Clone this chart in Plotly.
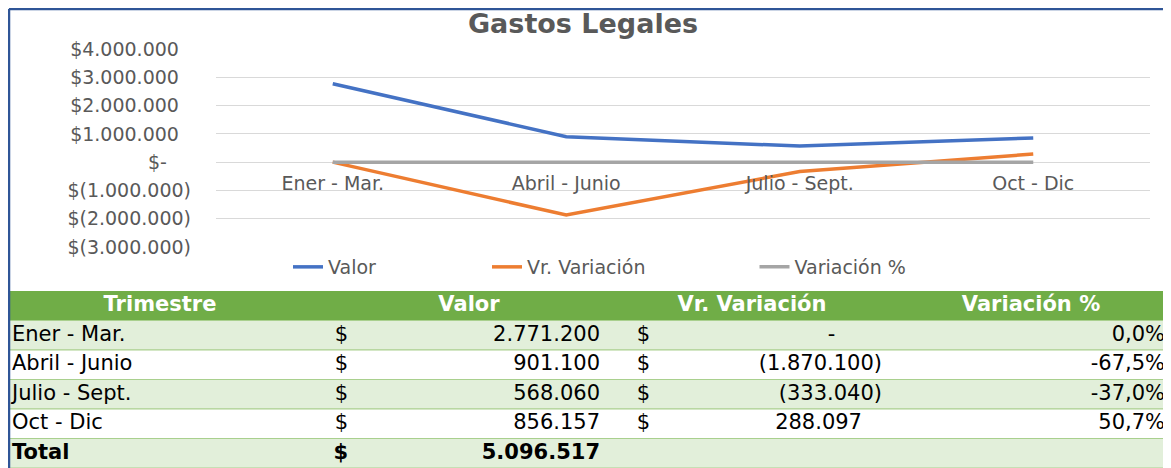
import plotly.graph_objects as go

# ---------------- data ----------------
trimestres = ["Ener - Mar.", "Abril - Junio", "Julio - Sept.", "Oct - Dic"]
valor = [2771200, 901100, 568060, 856157]
vr_variacion = [0, -1870100, -333040, 288097]
variacion_pct = [0.0, -0.675, -0.370, 0.507]
y_tick_values = [-3000000, -2000000, -1000000, 0, 1000000, 2000000, 3000000, 4000000]
series_names = ["Valor", "Vr. Variación", "Variación %"]
table_headers = ["Trimestre", "Valor", "Vr. Variación", "Variación %"]
total_label = "Total"

# ---------------- geometry helpers (page pixels -> paper) ----------------
OFF = 8                      # body margin of the html page
FW, FH = 1171 - OFF, 468 - OFF
NB = "\u00a0"


def px_x(p):
    return (p - OFF) / FW


def px_y(p):
    return 1 - (p - OFF) / FH


def thousands(v):
    return f"{v:,}".replace(",", ".")


def axis_label(v):
    if v > 0:
        return "$" + thousands(v) + NB * 2
    if v == 0:
        return "$-" + NB * 4
    return "$(" + thousands(-v) + ")"


def acct_var(v):
    if v == 0:
        return "-" + NB * 7
    if v < 0:
        return "(" + thousands(-v) + ")"
    return thousands(v) + NB * 3


def pct(p):
    return f"{p * 100:.1f}%".replace(".", ",")


GRAY_TXT = "#595959"
FONT = "DejaVu Sans"
colors = ["#4472C4", "#ED7D31", "#A5A5A5"]
legend_ids = ["legend", "legend2", "legend3"]

fig = go.Figure()
for name, vals, col, lg in zip(series_names, [valor, vr_variacion, variacion_pct], colors, legend_ids):
    fig.add_trace(go.Scatter(
        x=trimestres, y=vals, name=name, mode="lines",
        line=dict(color=col, width=3.5), hoverinfo="skip",
        xaxis="x", yaxis="y", legend=lg,
    ))

# ---------------- table (drawn on its own axes) ----------------
n_rows = len(trimestres) + 2                     # header + data + total
row_idx = list(range(n_rows))
row_fill = ["#70AD47", "#E2EFDA", "white", "#E2EFDA", "white", "#E2EFDA"]
row_line = ["#70AD47"] + ["#A9D08E"] * (n_rows - 1)
TABLE_LEFT, TABLE_RIGHT = 8, 1190

fig.add_trace(go.Bar(
    y=row_idx, x=[TABLE_RIGHT - TABLE_LEFT] * n_rows, base=TABLE_LEFT,
    orientation="h", width=1,
    marker=dict(color=row_fill, line=dict(color=row_line, width=1.2)),
    hoverinfo="skip", showlegend=False, xaxis="x2", yaxis="y2",
))

data_rows = row_idx[1:]
cell_font = dict(family=FONT, size=21, color="black")
head_font = dict(family=FONT, size=21, color="white")

columns = [
    # (texts, anchor x in page px, textposition)
    (trimestres + [f"<b>{total_label}</b>"], 12, "middle right"),
    (["$"] * len(valor) + ["<b>$</b>"], 348, "middle left"),
    ([thousands(v) for v in valor] + [f"<b>{thousands(sum(valor))}</b>"], 600, "middle left"),
    (["$"] * len(vr_variacion) + [""], 650, "middle left"),
    ([acct_var(v) for v in vr_variacion] + [""], 882, "middle left"),
    ([pct(p) for p in variacion_pct] + [""], 1165, "middle left"),
]
for texts, xpos, tpos in columns:
    fig.add_trace(go.Scatter(
        x=[xpos] * len(texts), y=data_rows, text=texts, mode="text",
        textposition=tpos, textfont=cell_font, hoverinfo="skip",
        showlegend=False, xaxis="x2", yaxis="y2", cliponaxis=False,
    ))

header_x = [160, 469, 752, 1031]
fig.add_trace(go.Scatter(
    x=header_x, y=[row_idx[0]] * len(table_headers),
    text=[f"<b>{h}</b>" for h in table_headers], mode="text",
    textposition="middle center", textfont=head_font, hoverinfo="skip",
    showlegend=False, xaxis="x2", yaxis="y2", cliponaxis=False,
))

# frame lines
shapes = [
    dict(type="line", xref="paper", yref="paper", x0=0.0008, x1=1, y0=1 - 1 / FH, y1=1 - 1 / FH,
         line=dict(color="#2F5597", width=2.5), layer="above"),
    dict(type="line", xref="paper", yref="paper", x0=1 / FW, x1=1 / FW, y0=1 - 1 / FH, y1=0,
         line=dict(color="#2F5597", width=2.5), layer="above"),
]

legend_common = dict(orientation="h", xanchor="center", yanchor="middle",
                     y=px_y(267), font=dict(family=FONT, size=19, color=GRAY_TXT),
                     bgcolor="rgba(0,0,0,0)", borderwidth=0)

fig.update_layout(
    template="none",
    width=FW, height=FH, autosize=False,
    margin=dict(l=0, r=0, t=0, b=0, pad=0, autoexpand=False),
    paper_bgcolor="white", plot_bgcolor="white",
    title=dict(text="<b>Gastos Legales</b>", x=px_x(583), y=px_y(14),
               xanchor="center", yanchor="top", automargin=False,
               font=dict(family=FONT, size=27, color=GRAY_TXT)),
    xaxis=dict(
        domain=[px_x(216), px_x(1150)], type="category",
        range=[-0.5, len(trimestres) - 0.5], automargin=False,
        anchor="free", position=px_y(162.1),
        showgrid=False, showline=False, zeroline=False, ticks="",
        tickfont=dict(family=FONT, size=19, color=GRAY_TXT),
        ticklabelstandoff=8,
    ),
    yaxis=dict(
        domain=[px_y(247), px_y(49)], range=[-3000000, 4000000], automargin=False,
        tickvals=y_tick_values, ticktext=[axis_label(v) for v in y_tick_values],
        showgrid=True, gridcolor="#D9D9D9", gridwidth=1,
        zeroline=False, showline=False, ticks="",
        tickfont=dict(family=FONT, size=19, color=GRAY_TXT),
        ticklabelstandoff=24,
    ),
    xaxis2=dict(domain=[0, 1], range=[OFF, 1171], visible=False, anchor="y2",
                automargin=False, fixedrange=True),
    yaxis2=dict(domain=[px_y(468), px_y(291)], range=[n_rows - 0.5, -0.5], visible=False,
                anchor="x2", automargin=False, fixedrange=True),
    showlegend=True,
    legend=dict(x=px_x(335), **legend_common),
    legend2=dict(x=px_x(569), **legend_common),
    legend3=dict(x=px_x(833), **legend_common),
    shapes=shapes,
)

fig.write_html("out.html")
